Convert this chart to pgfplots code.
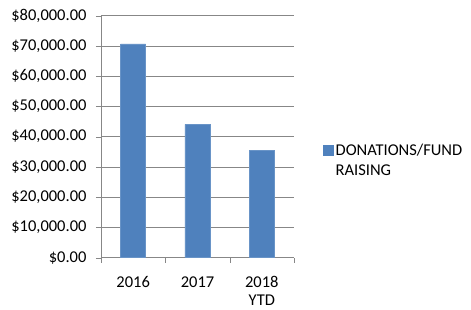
\documentclass[border=0pt]{standalone}
\usepackage{pgfplots}
\pgfplotsset{compat=1.18}
\usepackage{fontspec}
\setmainfont{Carlito}
\definecolor{barblue}{HTML}{4F81BD}
\definecolor{gridgray}{HTML}{878787}
\begin{document}
\begin{tikzpicture}[x=1pt,y=1pt]
\useasboundingbox (-101,-52.3) rectangle (370,257.7);
\begin{axis}[
  at={(0,0)}, anchor=south west,
  scale only axis, width=193pt, height=242pt,
  xmin=-0.5, xmax=2.5, ymin=0, ymax=80000,
  axis x line*=bottom, axis y line*=left,
  axis line style={gridgray},
  ytick={0,10000,...,80000},
  ymajorgrids, grid style={gridgray, line width=0.6pt},
  xtick={0,1,2},
  xticklabels={2016,2017,{2018\\YTD}},
  typeset ticklabels with strut,
  xticklabel style={align=center, font=\fontsize{16.5}{18}\selectfont, yshift=-9pt},
  major x tick style={draw=none},
  minor xtick={-0.5,0.5,1.5,2.5},
  minor x tick style={gridgray},
  tick align=outside,
  minor tick length=5pt,
  major tick length=5pt,
  y tick style={gridgray},
  /pgf/number format/assume math mode=true,
  yticklabel={\$\pgfmathprintnumber[fixed,fixed zerofill,precision=2,1000 sep={,}]{\tick}},
  yticklabel style={font=\fontsize{16.5}{20}\selectfont, xshift=-6pt},
  scaled y ticks=false,
  legend style={draw=none, fill=none, at={(222pt,108.2pt)}, anchor=west,
    font=\fontsize{16.5}{19.5}\selectfont, cells={anchor=base west},
    inner sep=0pt},
  legend image code/.code={\fill[barblue] (0pt,0pt) rectangle (10pt,10pt);},
]
\addplot[ybar, bar width=25pt, fill=barblue, draw=barblue!85!white] coordinates {(0,70700) (1,44100) (2,35600)};
\addlegendentry{\begin{tabular}[t]{@{}l@{}}DONATIONS/FUND\\RAISING\end{tabular}}
\end{axis}
\end{tikzpicture}
\end{document}
